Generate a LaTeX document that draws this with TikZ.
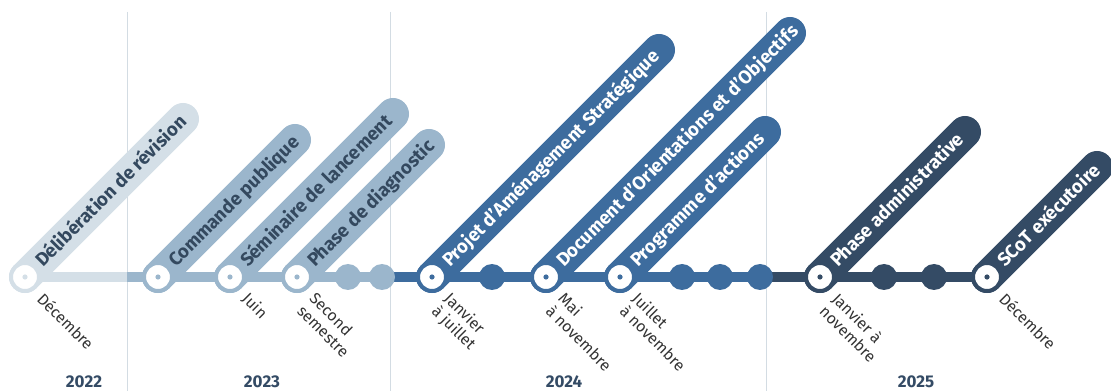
\documentclass[tikz,border=0pt]{standalone}
\usepackage{fontspec}
\setmainfont{Fira Sans}
\definecolor{cA}{HTML}{D4DFE7}
\definecolor{cB}{HTML}{9BB6CC}
\definecolor{cC}{HTML}{3D6C9E}
\definecolor{cD}{HTML}{344B65}
\definecolor{txtdark}{HTML}{34495F}
\definecolor{datetxt}{HTML}{333333}
\definecolor{gridc}{HTML}{D3DCE3}
\tikzset{
  band/.style={line width=32pt, line cap=round},
  tline/.style={line width=10pt},
  gridline/.style={draw=gridc, line width=1pt},
  milestone/.style={circle, draw=#1, line width=4pt, fill=white, minimum size=28pt, inner sep=0pt,
    path picture={\fill[#1] (path picture bounding box.center) circle (2.6pt);}},
  smalldot/.style={circle, fill=#1, minimum size=26pt, inner sep=0pt},
  bandtxt/.style={anchor=base west, rotate=45, inner sep=0pt, font=\fontsize{18.7}{22}\selectfont\bfseries},
  datelbl/.style={anchor=north west, rotate=-45, inner sep=0pt, align=left, text=datetxt,
    font=\fontsize{15.8}{17.5}\selectfont},
  yearlbl/.style={text=cD, font=\fontsize{17}{20}\selectfont\bfseries, inner sep=0pt},
}
\begin{document}
\begin{tikzpicture}[x=1pt,y=1pt]
\useasboundingbox (0,0) rectangle (1111,391);
% grid lines
\draw[gridline] (127,379) -- (127,0);
\draw[gridline] (390,379) -- (390,0);
\draw[gridline] (766,379) -- (766,0);
% positions
\coordinate (p1) at (25,114);
\coordinate (p2) at (158,114);
\coordinate (p3) at (230,114);
\coordinate (p4) at (297,114);
\coordinate (p5) at (432,114);
\coordinate (p6) at (546,114);
\coordinate (p7) at (620,114);
\coordinate (p8) at (820,114);
\coordinate (p9) at (987,114);
\coordinate (g1) at (127,114);
\coordinate (g2) at (390,114);
\coordinate (g3) at (766,114);
% timeline
\draw[tline, cA] (p1) -- (g1);
\draw[tline, cB] (g1) -- (g2);
\draw[tline, cC] (g2) -- (g3);
\draw[tline, cD] (g3) -- (p9);
% bands
\draw[band, cA] (p1) -- ++(158,158);
\draw[band, cB] (p2) -- ++(137,137);
\draw[band, cB] (p3) -- ++(163,163);
\draw[band, cB] (p4) -- ++(132,132);
\draw[band, cC] (p5) -- ++(227,227);
\draw[band, cC] (p6) -- ++(244,244);
\draw[band, cC] (p7) -- ++(145,145);
\draw[band, cD] (p8) -- ++(145,145);
\draw[band, cD] (p9) -- ++(110,110);
% small dots
\node[smalldot=cB] (d1) at (348,114) {};
\node[smalldot=cB] (d2) at (382,114) {};
\node[smalldot=cC] (d3) at (492,114) {};
\node[smalldot=cC] (d4) at (682,114) {};
\node[smalldot=cC] (d5) at (720,114) {};
\node[smalldot=cC] (d6) at (760,114) {};
\node[smalldot=cD] (d7) at (884,114) {};
\node[smalldot=cD] (d8) at (934,114) {};
% milestones
\node[milestone=cA] (m1) at (p1) {};
\node[milestone=cB] (m2) at (p2) {};
\node[milestone=cB] (m3) at (p3) {};
\node[milestone=cB] (m4) at (p4) {};
\node[milestone=cC] (m5) at (p5) {};
\node[milestone=cC] (m6) at (p6) {};
\node[milestone=cC] (m7) at (p7) {};
\node[milestone=cD] (m8) at (p8) {};
\node[milestone=cD] (m9) at (p9) {};
% band texts
\path (p1) ++(45:19) ++(-45:6.4) node[bandtxt, text=txtdark] (t1) {Délibération de révision};
\path (p2) ++(45:19) ++(-45:6.4) node[bandtxt, text=txtdark] (t2) {Commande publique};
\path (p3) ++(45:19) ++(-45:6.4) node[bandtxt, text=txtdark] (t3) {Séminaire de lancement};
\path (p4) ++(45:19) ++(-45:6.4) node[bandtxt, text=txtdark] (t4) {Phase de diagnostic};
\path (p5) ++(45:19) ++(-45:6.4) node[bandtxt, text=white] (t5) {Projet d’Aménagement Stratégique};
\path (p6) ++(45:19) ++(-45:6.4) node[bandtxt, text=white] (t6) {Document d’Orientations et d’Objectifs};
\path (p7) ++(45:19) ++(-45:6.4) node[bandtxt, text=white] (t7) {Programme d’actions};
\path (p8) ++(45:19) ++(-45:6.4) node[bandtxt, text=white] (t8) {Phase administrative};
\path (p9) ++(45:19) ++(-45:6.4) node[bandtxt, text=white] (t9) {SCoT exécutoire};
% dates
\node[datelbl] (l1) at ([shift={(20,-14)}]p1) {Décembre};
\node[datelbl] (l3) at ([shift={(20,-14)}]p3) {Juin};
\node[datelbl] (l4) at ([shift={(20,-14)}]p4) {Second\\semestre};
\node[datelbl] (l5) at ([shift={(20,-14)}]p5) {Janvier\\à juillet};
\node[datelbl] (l6) at ([shift={(20,-14)}]p6) {Mai\\à novembre};
\node[datelbl] (l7) at ([shift={(20,-14)}]p7) {Juillet\\à novembre};
\node[datelbl] (l8) at ([shift={(20,-14)}]p8) {Janvier à\\novembre};
\node[datelbl] (l9) at ([shift={(20,-14)}]p9) {Décembre};
% years
\node[yearlbl] (y1) at (84,9) {2022};
\node[yearlbl] (y2) at (262,9) {2023};
\node[yearlbl] (y3) at (564,9) {2024};
\node[yearlbl] (y4) at (916,9) {2025};
\end{tikzpicture}
\end{document}
